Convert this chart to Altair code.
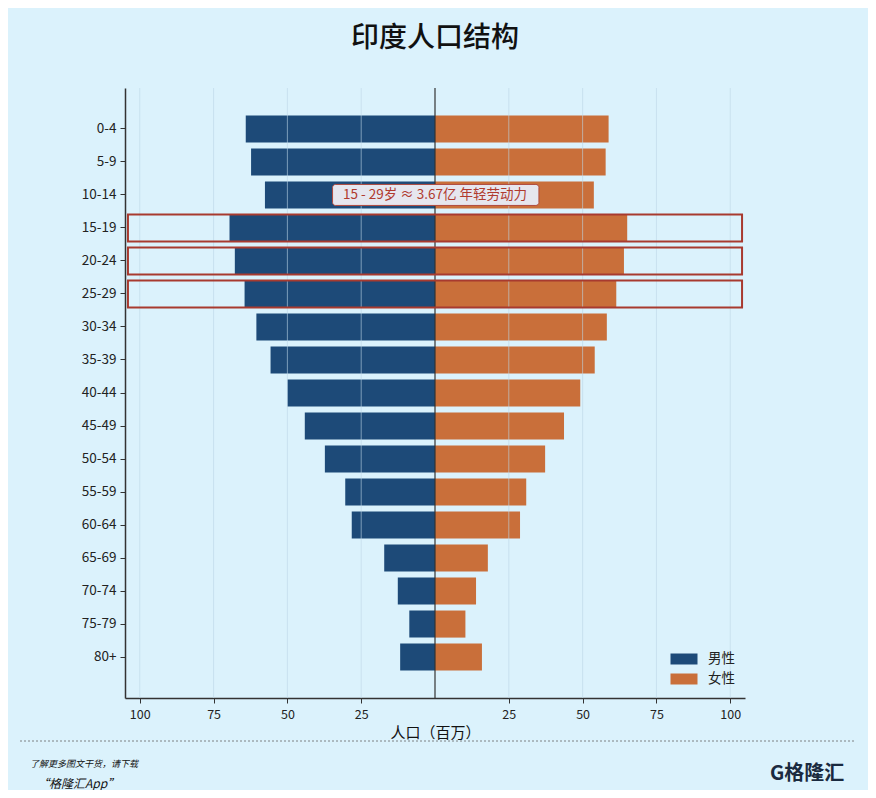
import altair as alt
import pandas as pd

ages = ["0-4", "5-9", "10-14", "15-19", "20-24", "25-29", "30-34", "35-39",
        "40-44", "45-49", "50-54", "55-59", "60-64", "65-69", "70-74", "75-79", "80+"]
male = [64.1, 62.3, 57.6, 69.6, 67.8, 64.5, 60.5, 55.7, 50.0, 44.1, 37.3, 30.4,
        28.2, 17.2, 12.6, 8.7, 11.8]
female = [58.8, 57.8, 53.8, 65.1, 64.0, 61.4, 58.2, 54.1, 49.2, 43.7, 37.3, 30.9,
          28.8, 17.9, 13.9, 10.3, 15.9]
groups = ["男性", "女性"]
colors = ["#1d4a78", "#c96f3a"]
tick_values = [-100, -75, -50, -25, 25, 50, 75, 100]
grid_values = [-100, -75, -50, -25, 25, 50, 75, 100]
highlight_ages = ["15-19", "20-24", "25-29"]
highlight_span = [-104, 104]
note_age = "10-14"
note_text = "15 - 29岁  ≈  3.67亿  年轻劳动力"
note_span = [-34.7, 35.2]

FONT = "Noto Sans CJK SC"
BG = "#dbf2fc"

rows = []
for a, m, f in zip(ages, male, female):
    rows.append({"age": a, "group": "男性", "pop": m})
    rows.append({"age": a, "group": "女性", "pop": f})
df = pd.DataFrame(rows)

xscale = alt.Scale(domain=[-105, 105], nice=False)
yscale = alt.Scale(paddingInner=0.18, paddingOuter=0.83)

bars = alt.Chart(df).transform_calculate(
    v="datum.group == '男性' ? -datum.pop : datum.pop"
).mark_bar().encode(
    x=alt.X("v:Q", scale=xscale,
            axis=alt.Axis(values=tick_values, labelExpr="abs(datum.value)",
                          title="人口（百万）", grid=False, domainColor="#333333",
                          domainWidth=1.5, tickColor="#333333", tickSize=5,
                          labelFontSize=12.5, labelColor="#222222", labelFont=FONT,
                          labelPadding=5, titleFont=FONT, titleFontSize=15,
                          titleFontWeight="normal", titleColor="#111111",
                          titlePadding=5)),
    x2=alt.datum(0),
    y=alt.Y("age:N", sort=ages, scale=yscale,
            axis=alt.Axis(title=None, domainColor="#333333", domainWidth=1.5,
                          tickColor="#333333", tickSize=5, labelFontSize=13.5,
                          labelColor="#222222", labelFont=FONT, labelPadding=4)),
    color=alt.Color("group:N", scale=alt.Scale(domain=groups, range=colors),
                    legend=alt.Legend(title=None, orient="none", legendX=549,
                                      legendY=561, symbolType="M-1.4,-0.57L1.4,-0.57L1.4,0.57L-1.4,0.57Z",
                                      symbolSize=372, symbolStrokeWidth=0,
                                      symbolOpacity=1, labelFont=FONT,
                                      labelFontSize=13.5, labelColor="#222222",
                                      labelOffset=14, rowPadding=3)),
)

grid = alt.Chart(pd.DataFrame({"v": grid_values})).mark_rule(
    color="#bcd5e6", opacity=0.6, strokeWidth=1
).encode(x=alt.X("v:Q", scale=xscale))

center = alt.Chart(pd.DataFrame({"v": [0]})).mark_rule(
    color="#333333", strokeWidth=1.2
).encode(x=alt.X("v:Q", scale=xscale))

hl = alt.Chart(pd.DataFrame({"age": highlight_ages,
                             "v": [highlight_span[0]] * 3,
                             "x1": [highlight_span[1]] * 3})).mark_rect(
    filled=False, color="#a83a2f", strokeWidth=2
).encode(
    x=alt.X("v:Q", scale=xscale),
    x2="x1:Q",
    y=alt.Y("age:N", sort=ages, scale=yscale),
)

note_df = pd.DataFrame({"age": [note_age], "v": [note_span[0]],
                        "x1": [note_span[1]], "t": [note_text], "xc": [0]})
note_box = alt.Chart(note_df).mark_bar(
    height=21, cornerRadius=3, fill="#e6e6ee", stroke="#b04a3e", strokeWidth=1
).encode(
    x=alt.X("v:Q", scale=xscale),
    x2="x1:Q",
    y=alt.Y("age:N", sort=ages, scale=yscale),
)
note_txt = alt.Chart(note_df).transform_calculate(v="datum.xc").mark_text(
    font=FONT, fontSize=13.5, color="#b03a2e", align="center", baseline="middle"
).encode(
    x=alt.X("v:Q", scale=xscale),
    y=alt.Y("age:N", sort=ages, scale=yscale),
    text="t:N",
)

# footer
sep = alt.Chart(pd.DataFrame({"k": [0]})).mark_rule(
    color="#666666", strokeWidth=0.8, strokeDash=[2, 2]
).encode(x=alt.value(-105), x2=alt.value(730), y=alt.value(653))

foot1 = alt.Chart(pd.DataFrame({"t": ["了解更多图文干货，请下载"]})).mark_text(
    font=FONT, fontSize=9, fontStyle="italic", align="left", color="#111111"
).encode(x=alt.value(-95), y=alt.value(676), text="t:N")

foot2 = alt.Chart(pd.DataFrame({"t": ["“格隆汇App”"]})).mark_text(
    font=FONT, fontSize=12, fontStyle="italic", align="left", color="#111111"
).encode(x=alt.value(-88), y=alt.value(696), text="t:N")

logo = alt.Chart(pd.DataFrame({"t": ["G格隆汇"]})).mark_text(
    font=FONT, fontSize=20, fontWeight="bold", align="left", color="#1a2a3f"
).encode(x=alt.value(645), y=alt.value(686), text="t:N")

chart = alt.layer(bars, grid, center, hl, note_box, note_txt, sep, foot1, foot2, logo).properties(
    width=620, height=610,
    title=alt.TitleParams("印度人口结构", font=FONT, fontSize=28, fontWeight=500,
                          color="#111111", anchor="middle", offset=34),
    autosize=alt.AutoSizeParams(type="none"),
    padding={"left": 117, "top": 80, "right": 123, "bottom": 92},
    background=BG,
).configure_view(stroke=None)

chart.save("out.html", embed_options={"renderer": "svg", "actions": False})
